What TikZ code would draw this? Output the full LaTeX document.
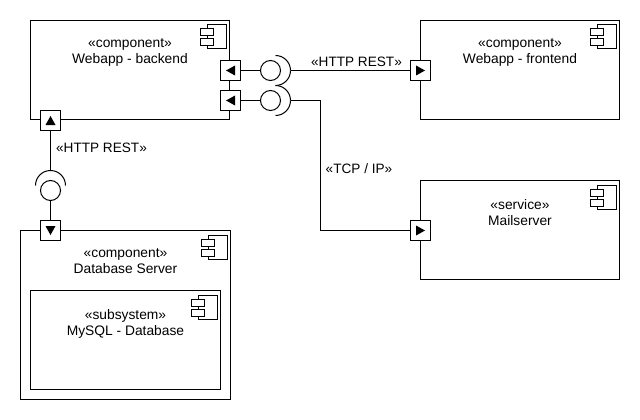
\documentclass[tikz,border=0pt]{standalone}
\usepackage{fontspec}
\setmainfont{Liberation Sans}
\usetikzlibrary{positioning}
\tikzset{
  compbox/.style={draw,line width=1pt,fill=white,inner sep=0pt,minimum width=199pt,minimum height=99pt},
  porthole/.style={draw,line width=1pt,fill=white,inner sep=0pt,minimum size=20pt},
  ball/.style={draw,line width=1pt,circle,inner sep=0pt,minimum size=20pt},
  boxtext/.style={inner sep=0pt,align=center,font=\fontsize{13.8}{16}\selectfont},
  flowtext/.style={inner sep=0pt,font=\fontsize{13.6}{16}\selectfont},
}
\begin{document}
\begin{tikzpicture}[x=1pt,y=-1pt,line width=1pt]
   \useasboundingbox (-0.5,-0.5) rectangle (639.5,419.5);

   % boxes
   \node [compbox] (backend) at (129.5,69.5) {};
   \node [compbox] (frontend) at (519.5,69.5) {};
   \node [compbox] (mailsrv) at (519.5,229.5) {};
   \node [compbox,minimum width=210pt,minimum height=169pt] (dbserver) at (125,314.5) {};
   \node [compbox,minimum width=190pt] (mysql) at (125,339.5) {};

   \node [boxtext,below=18.5pt of backend.north] (backendtxt) {«component»\\Webapp - backend};
   \node [boxtext,below=18.5pt of frontend.north] (frontendtxt) {«component»\\Webapp - frontend};
   \node [boxtext,below=18.5pt of mailsrv.north] (mailsrvtxt) {«service»\\Mailserver};
   \node [boxtext,below=18.5pt of dbserver.north] (dbservertxt) {«component»\\Database Server};
   \node [boxtext,below=18.5pt of mysql.north] (mysqltxt) {«subsystem»\\MySQL - Database};

   % component icons
   \foreach \b in {backend,frontend,mailsrv,dbserver,mysql}{
      \draw ([shift={(-23,5)}]\b.north east) rectangle ([shift={(-4,29)}]\b.north east);
      \draw [fill=white] ([shift={(-30,9)}]\b.north east) rectangle ([shift={(-17,16)}]\b.north east);
      \draw [fill=white] ([shift={(-30,19)}]\b.north east) rectangle ([shift={(-17,26)}]\b.north east);
   }

   % ports
   \node [porthole] (portrest) at (230,70) {};
   \node [porthole] (porttcp) at (230,100) {};
   \node [porthole] (portup) at (50,120) {};
   \node [porthole] (portfront) at (420,70) {};
   \node [porthole] (portmail) at (420,230) {};
   \node [porthole] (portdb) at (50,230) {};

   \foreach \p in {portrest,porttcp}
      \fill (\p.center) ++(-4.5,0) -- ++(9,-5) -- ++(0,10) -- cycle;
   \foreach \p in {portfront,portmail}
      \fill (\p.center) ++(4.5,0) -- ++(-9,-5) -- ++(0,10) -- cycle;
   \fill (portup.center) ++(0,-4.5) -- ++(-5,9) -- ++(10,0) -- cycle;
   \fill (portdb.center) ++(0,4.5) -- ++(-5,-9) -- ++(10,0) -- cycle;

   % balls and sockets
   \node [ball] (ballrest) at (270,70) {};
   \node [ball] (balltcp) at (270,100) {};
   \node [ball] (balldb) at (50,190) {};
   \coordinate (sockrest) at (290,70);
   \coordinate (socktcp) at (290,100);
   \coordinate (sockdb) at (50,170);

   \draw (sockrest) arc [start angle=0,end angle=90,radius=15pt];
   \draw (sockrest) arc [start angle=0,end angle=-90,radius=15pt];
   \draw (socktcp) arc [start angle=0,end angle=90,radius=15pt];
   \draw (socktcp) arc [start angle=0,end angle=-90,radius=15pt];
   \draw (sockdb) arc [start angle=90,end angle=0,radius=15pt];
   \draw (sockdb) arc [start angle=90,end angle=180,radius=15pt];

   % connectors
   \draw (portrest) -- (ballrest);
   \draw (porttcp) -- (balltcp);
   \draw (sockrest) -- (portfront);
   \draw (socktcp) -- (320,100) -- (320,230) -- (portmail);
   \draw (portup) -- (sockdb);
   \draw (balldb) -- (portdb);

   % labels
   \node [flowtext] (lblrest) at (356,61.5) {«HTTP REST»};
   \node [flowtext] (lbldb) at (101,147.5) {«HTTP REST»};
   \node [flowtext] (lbltcp) at (358.5,168.5) {«TCP / IP»};
\end{tikzpicture}
\end{document}
